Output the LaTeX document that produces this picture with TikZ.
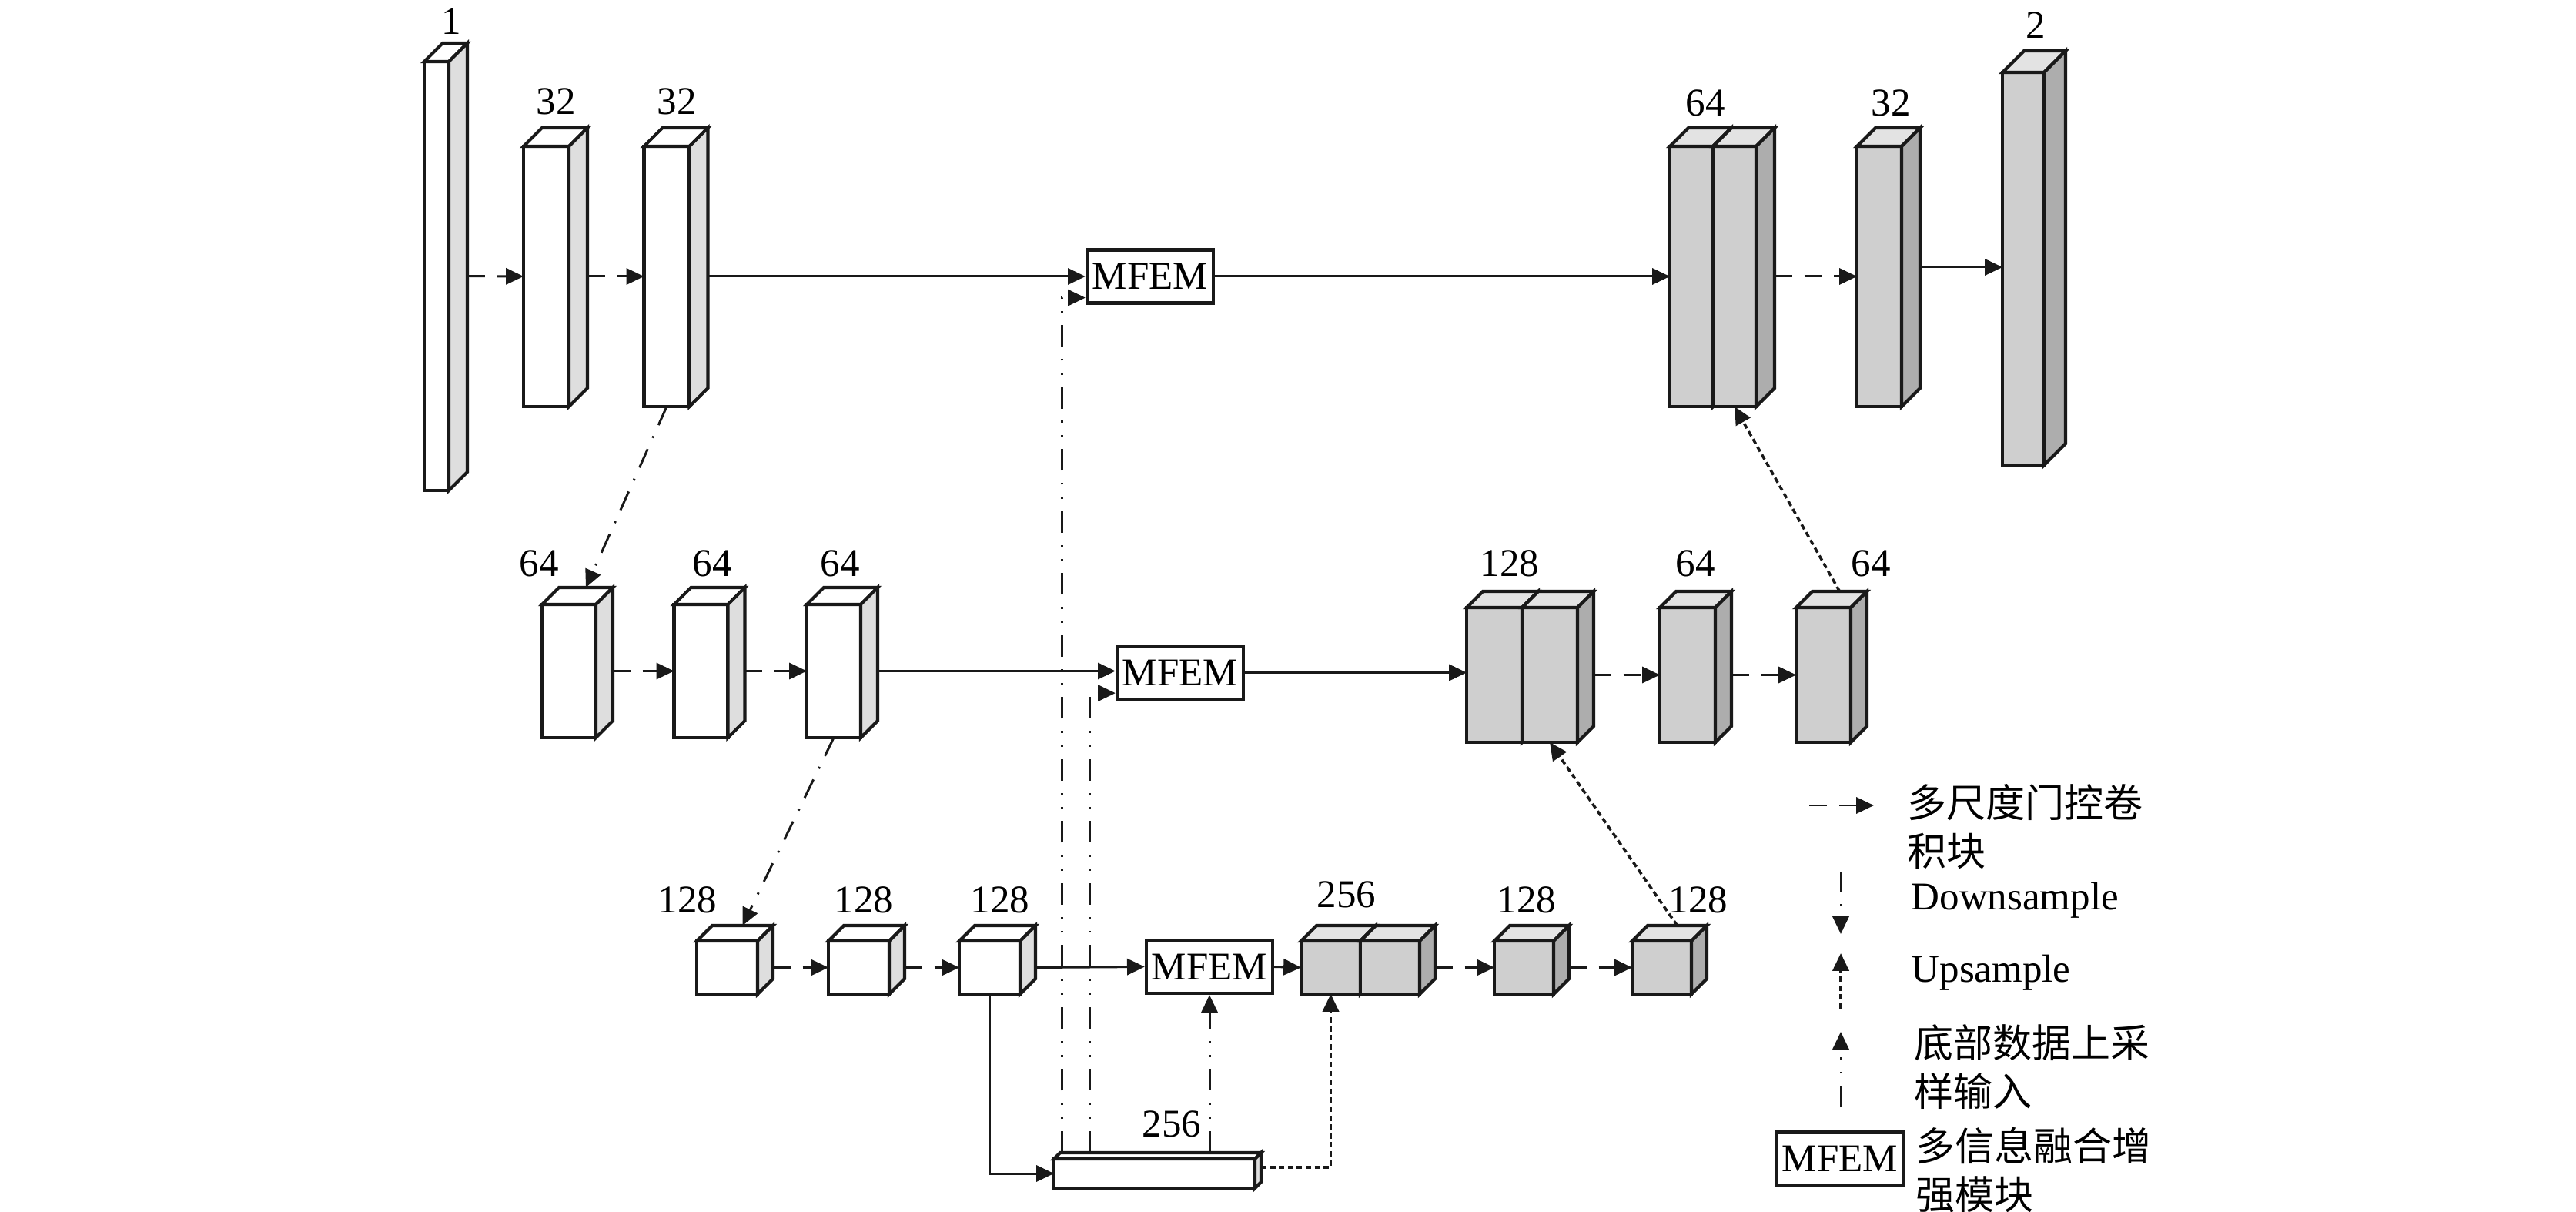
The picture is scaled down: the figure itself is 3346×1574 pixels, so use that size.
\documentclass[tikz,border=0pt]{standalone}
\usepackage{fontspec}
\setmainfont{Liberation Serif}
\newfontfamily\cjk{Noto Sans CJK SC}
\usetikzlibrary{arrows.meta,calc,positioning}

\colorlet{encfront}{white}
\colorlet{enctop}{white}
\colorlet{encside}{black!13}
\colorlet{decfront}{black!19}
\colorlet{dectop}{black!11}
\colorlet{decside}{black!32}

\tikzset{
  fmapface/.style={draw=black!90, line width=1.2pt, line join=miter},
  fmapfront/.style={fmapface, fill=#1front, inner sep=0pt, outer sep=0pt},
  mfem/.style={draw=black!90, line width=1.2pt, minimum width=1.64cm, minimum height=0.69cm, inner sep=0pt, font=\fontsize{14.5}{17}\selectfont},
  lbl/.style={inner sep=0pt, font=\fontsize{14.5}{17}\selectfont},
  legtext/.style={inner sep=0pt, align=left, anchor=north west, font=\cjk\fontsize{14.5}{17.9}\selectfont},
  conn/.style={draw=black!90, line width=0.85pt, -{Triangle[length=6.5pt,width=6pt]}},
  gated/.style={conn, dash pattern=on 6.5pt off 4.5pt},
  down/.style={conn, dash pattern=on 7.5pt off 4.5pt on 0.7pt off 4.5pt},
  upin/.style={conn, dash pattern=on 8pt off 4.5pt on 0.7pt off 4.5pt on 0.7pt off 4.5pt},
  up/.style={conn, line width=1pt, dash pattern=on 2pt off 1.3pt},
  skip/.style={conn},
}

% feature map: name, x, y, width, height, depth, colour set
\newcommand{\fmap}[7]{%
  \node[fmapfront=#7, minimum width=#4*0.01cm, minimum height=#5*0.01cm] (#1) at (#2,#3) {};
  \draw[fmapface, fill=#7top] (#1.north west) -- ++(#6,-#6) -- ++(#4,0) -- (#1.north east) -- cycle;
  \draw[fmapface, fill=#7side] (#1.north east) -- ++(#6,-#6) -- ++(0,#5) -- (#1.south east) -- cycle;
}

\begin{document}
\begin{tikzpicture}[x=0.01cm, y=-0.01cm]
    \useasboundingbox (0,0) rectangle (3346,1574);

    % Encoder, level 1
    \fmap{in}{567}{358.5}{32}{557}{24}{enc}
    \fmap{ea1}{709.5}{359}{59}{338}{24}{enc}
    \fmap{ea2}{866}{359}{59}{338}{24}{enc}
    % Encoder, level 2
    \fmap{eb1}{739}{871.5}{70}{173}{22}{enc}
    \fmap{eb2}{910.5}{871.5}{70}{173}{22}{enc}
    \fmap{eb3}{1083}{871.5}{70}{173}{22}{enc}
    % Encoder, level 3
    \fmap{ec1}{944.5}{1256.5}{79}{69}{20}{enc}
    \fmap{ec2}{1115.5}{1256.5}{79}{69}{20}{enc}
    \fmap{ec3}{1285.5}{1256.5}{79}{69}{20}{enc}
    % Bottom
    \fmap{bot}{1499.5}{1524}{261}{38}{8}{enc}

    % Decoder, level 1
    \fmap{da1}{2197}{359}{56}{338}{24}{dec}
    \fmap{da2}{2253}{359}{56}{338}{24}{dec}
    \fmap{da3}{2441}{359}{58}{338}{24}{dec}
    \fmap{out}{2628}{349}{54}{510}{28}{dec}
    % Decoder, level 2
    \fmap{db1}{1941}{876.5}{72}{175}{21}{dec}
    \fmap{db2}{2013}{876.5}{72}{175}{21}{dec}
    \fmap{db3}{2192}{876.5}{72}{175}{21}{dec}
    \fmap{db4}{2368.5}{876.5}{71}{175}{21}{dec}
    % Decoder, level 3
    \fmap{dc1}{1728.5}{1256.5}{77}{69}{20}{dec}
    \fmap{dc2}{1805.5}{1256.5}{77}{69}{20}{dec}
    \fmap{dc3}{1979.5}{1256.5}{77}{69}{20}{dec}
    \fmap{dc4}{2158.5}{1256.5}{77}{69}{20}{dec}

    % MFEM blocks
    \node[mfem] (m1) at (1494,359) {MFEM};
    \node[mfem] (m2) at (1533,873.5) {MFEM};
    \node[mfem] (m3) at (1571,1255.5) {MFEM};

    % Channel numbers
    \node[lbl] (n1) at (586,28) {1};
    \node[lbl] (n2) at (722,132) {32};
    \node[lbl] (n3) at (879,132) {32};
    \node[lbl] (n4) at (2215,134) {64};
    \node[lbl] (n5) at (2456,134) {32};
    \node[lbl] (n6) at (2644,33) {2};
    \node[lbl] (n7) at (700,732) {64};
    \node[lbl] (n8) at (925,732) {64};
    \node[lbl] (n9) at (1091,732) {64};
    \node[lbl] (n10) at (1961,732) {128};
    \node[lbl] (n11) at (2202,732) {64};
    \node[lbl] (n12) at (2430,732) {64};
    \node[lbl] (n13) at (893,1169) {128};
    \node[lbl] (n14) at (1122,1169) {128};
    \node[lbl] (n15) at (1299,1169) {128};
    \node[lbl] (n16) at (1749,1162) {256};
    \node[lbl] (n17) at (1983,1169) {128};
    \node[lbl] (n18) at (2206,1169) {128};
    \node[lbl] (n19) at (1522,1460) {256};

    % Level 1 links
    \draw[gated] ($(in.east)+(24,0)$) -- (ea1.west);
    \draw[gated] ($(ea1.east)+(24,0)$) -- (ea2.west);
    \draw[skip] ($(ea2.east)+(24,0)$) -- (m1.west);
    \draw[skip] (m1.east) -- (da1.west);
    \draw[gated] ($(da2.east)+(24,0)$) -- (da3.west);
    \draw[skip] ($(da3.east)+(24,-12)$) -- ($(out.west)+(0,-2)$);

    % Level 2 links
    \draw[gated] ($(eb1.east)+(22,0)$) -- (eb2.west);
    \draw[gated] ($(eb2.east)+(22,0)$) -- (eb3.west);
    \draw[skip] ($(eb3.east)+(22,0)$) -- (m2.west |- eb3.east);
    \draw[skip] (m2.east) -- (db1.west |- m2.east);
    \draw[gated] ($(db2.east)+(21,0)$) -- (db3.west);
    \draw[gated] ($(db3.east)+(21,0)$) -- (db4.west);

    % Level 3 links
    \draw[gated] ($(ec1.east)+(20,0)$) -- (ec2.west);
    \draw[gated] ($(ec2.east)+(20,0)$) -- (ec3.west);
    \draw[skip] ($(ec3.east)+(20,0)$) -- (m3.west);
    \draw[skip] (m3.east) -- (dc1.west);
    \draw[gated] ($(dc2.east)+(20,0)$) -- (dc3.west);
    \draw[gated] ($(dc3.east)+(20,0)$) -- (dc4.west);

    % Downsample and upsample
    \draw[down] (ea2.south) -- ($(eb1.north)+(22,-22)$);
    \draw[down] (eb3.south) -- ($(ec1.north)+(20,-20)$);
    \draw[up] ($(db4.north)+(21,-21)$) -- (da2.south);
    \draw[up] ($(dc4.north)+(20,-20)$) -- (db2.south);

    % Bottom data
    \draw[skip] (ec3.south) |- (bot.west);
    \draw[upin] ($(bot.north west)+(10,-8)$) |- ($(m1.south west)+(0,-9)$);
    \draw[upin] ($(bot.north west)+(46,-8)$) |- ($(m2.south west)+(0,-10)$);
    \draw[upin] ($(m3.south |- bot.north)+(0,-8)$) -- (m3.south);
    \draw[up] ($(bot.east)+(8,-8)$) -| (dc1.south);

    % Legend
    \coordinate (lg1s) at (2350,1046);
    \coordinate (lg1e) at (2434,1046);
    \coordinate (lg2s) at (2391,1132);
    \coordinate (lg2e) at (2391,1213);
    \coordinate (lg3s) at (2391,1310);
    \coordinate (lg3e) at (2391,1238);
    \coordinate (lg4s) at (2391,1438);
    \coordinate (lg4e) at (2391,1340);
    \draw[gated] (lg1s) -- (lg1e);
    \draw[down] (lg2s) -- (lg2e);
    \draw[up] (lg3s) -- (lg3e);
    \draw[upin] (lg4s) -- (lg4e);
    \node[legtext] (lt1) at (2477,1018) {多尺度门控卷\\积块};
    \node[lbl, anchor=west] (lt2) at (2482,1169) {Downsample};
    \node[lbl, anchor=west] (lt3) at (2482,1263) {Upsample};
    \node[legtext] (lt4) at (2486,1330) {底部数据上采\\样输入};
    \node[mfem] (mlg) at (2390,1505) {MFEM};
    \node[legtext] (lt5) at (2488,1463) {多信息融合增\\强模块};
\end{tikzpicture}
\end{document}
